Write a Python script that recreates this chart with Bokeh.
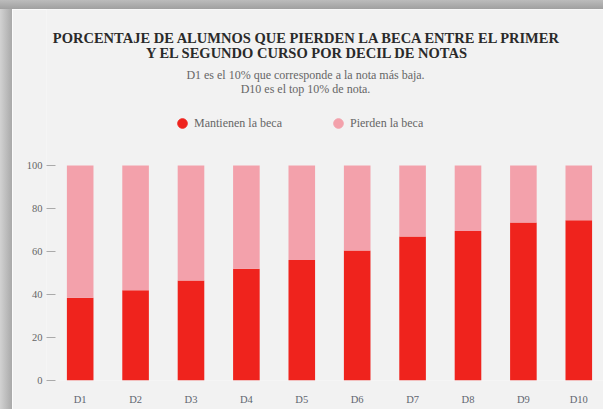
from bokeh.plotting import figure
from bokeh.models import (Label, Legend, LegendItem, FixedTicker, Range1d,
                          ColumnDataSource, Spacer)
from bokeh.layouts import column, row
from bokeh.embed import file_html
from bokeh.resources import INLINE

deciles = ["D1", "D2", "D3", "D4", "D5", "D6", "D7", "D8", "D9", "D10"]
mantienen = [38.5, 42, 46.5, 52, 56, 60.5, 67, 69.5, 73.5, 74.5]
pierden = [61.5, 58, 53.5, 48, 44, 39.5, 33, 30.5, 26.5, 25.5]
y_ticks = [0, 20, 40, 60, 80, 100]

title_lines = ["PORCENTAJE DE ALUMNOS QUE PIERDEN LA BECA ENTRE EL PRIMER",
               "Y EL SEGUNDO CURSO POR DECIL DE NOTAS"]
subtitle_lines = ["D1 es el 10% que corresponde a la nota más baja.",
                  "D10 es el top 10% de nota."]
series_names = ["Mantienen la beca", "Pierden la beca"]
colors = ["#ef231d", "#f3a1ab"]

BG = "#f2f2f2"
SERIF = "Liberation Serif"

pos = list(range(1, len(deciles) + 1))
src = ColumnDataSource(dict(x=pos, mantienen=mantienen, pierden=pierden))

p = figure(width=591, height=400, output_backend="svg", toolbar_location=None,
           x_range=Range1d(0.392, 10.446), y_range=Range1d(0, 172.56),
           min_border_left=34, min_border_right=0, min_border_top=0, min_border_bottom=29)
p.background_fill_color = BG
p.border_fill_color = BG
p.outline_line_color = None
p.grid.grid_line_color = None

p.vbar_stack(["mantienen", "pierden"], x="x", width=0.48, color=colors, source=src,
             line_color=None)

# axes
p.yaxis.ticker = FixedTicker(ticks=y_ticks)
p.yaxis.axis_line_color = None
p.yaxis.major_tick_line_color = "#aaaaaa"
p.yaxis.major_tick_in = 9
p.yaxis.major_tick_out = 0
p.yaxis.minor_tick_line_color = None
p.yaxis.major_label_standoff = 4
p.yaxis.major_label_text_font = SERIF
p.yaxis.major_label_text_font_size = "10.5px"
p.yaxis.major_label_text_color = "#666666"

p.xaxis.ticker = FixedTicker(ticks=pos)
p.xaxis.major_label_overrides = {i: d for i, d in zip(pos, deciles)}
p.xaxis.axis_line_color = None
p.xaxis.major_tick_line_color = None
p.xaxis.minor_tick_line_color = None
p.xaxis.major_label_standoff = 7
p.xaxis.major_label_text_font = SERIF
p.xaxis.major_label_text_font_size = "10.5px"
p.xaxis.major_label_text_color = "#5f6670"

# titles (screen units relative to plot frame)
for txt, y in zip(title_lines, [343, 328]):
    p.add_layout(Label(x=261, y=y, x_units="screen", y_units="screen", text=txt,
                       text_align="center", text_baseline="middle",
                       text_font=SERIF, text_font_style="bold",
                       text_font_size="14.5px", text_color="#2a2a2a"))
for txt, y in zip(subtitle_lines, [306, 292]):
    p.add_layout(Label(x=259, y=y, x_units="screen", y_units="screen", text=txt,
                       text_align="center", text_baseline="middle",
                       text_font=SERIF, text_font_size="12px",
                       text_color="#666666"))

# legend with circle markers (proxy renderers with no visible point)
nan = float("nan")
r1 = p.scatter(x=[nan], y=[nan], marker="circle", size=10, color=colors[0])
r2 = p.scatter(x=[nan], y=[nan], marker="circle", size=10, color=colors[1])
legend = Legend(items=[LegendItem(label=series_names[0], renderers=[r1]),
                       LegendItem(label=series_names[1], renderers=[r2])],
                orientation="horizontal", location=(124, 245),
                background_fill_alpha=0, border_line_color=None,
                padding=0, margin=0, spacing=44,
                glyph_width=24, glyph_height=24, label_standoff=0,
                label_text_font=SERIF, label_text_font_size="12px",
                label_text_color="#666666")
p.add_layout(legend, "center")

top_shadow = Spacer(width=603, height=9,
                    styles={"background": "linear-gradient(to bottom, #bcbcbc, #a0a0a0)"})
left_shadow = Spacer(width=12, height=400,
                     styles={"background": "linear-gradient(to right, #d2d2d2, #a9a9a9)"})
layout = column(top_shadow, row(left_shadow, p, spacing=0), spacing=0)

open("out.html", "w").write(file_html(layout, INLINE))
